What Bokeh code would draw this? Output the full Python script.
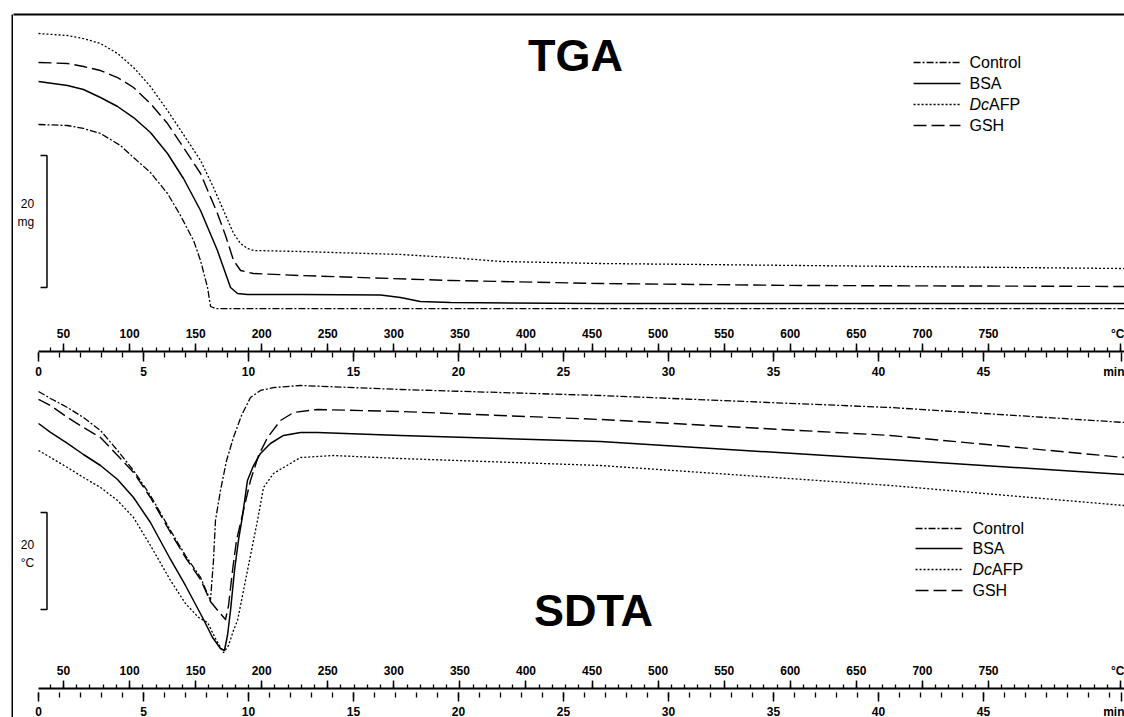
from bokeh.plotting import figure
from bokeh.models import Range1d, LinearAxis, FixedTicker, CustomJSTickFormatter, Label, Spacer
from bokeh.layouts import row, column
from bokeh.embed import file_html
from bokeh.resources import INLINE

# ------------------------------------------------------------------ data
series_names = ["Control", "BSA", "DcAFP", "GSH"]

# temperature programme: T = T_START + RATE * t
T_START = 31.1      # degC at t = 0 min
RATE = 15.89        # degC / min

temp_ticks = [50, 100, 150, 200, 250, 300, 350, 400, 450, 500, 550, 600, 650, 700, 750, 850]
time_ticks = [0, 5, 10, 15, 20, 25, 30, 35, 40, 45, 51.6]

# TGA : sample mass (mg, relative baseline) vs temperature (degC)
tga_control_T = [31.1, 53.0, 65.1, 78.0, 93.1, 103.0, 115.8, 128.7, 138.5, 148.4, 153.7, 159.0, 161.3, 165.0, 852.9]
tga_control_mg = [30.30, 30.15, 29.70, 28.94, 27.12, 25.30, 23.03, 19.85, 16.52, 12.73, 9.70, 5.61, 2.73, 2.42, 2.42]

tga_bsa_T = [31.1, 53.0, 65.1, 78.0, 90.9, 103.0, 115.8, 128.7, 140.8, 153.7, 166.5, 176.4, 181.7, 189.2, 229.4, 290.0, 305.0, 320.0, 342.9, 456.4, 852.9]
tga_bsa_mg = [36.82, 36.21, 35.61, 34.39, 33.03, 31.36, 29.09, 25.91, 22.12, 17.27, 11.21, 5.61, 4.70, 4.55, 4.55, 4.47, 4.09, 3.48, 3.33, 3.18, 3.18]

tga_dcafp_T = [31.1, 53.0, 65.1, 78.0, 90.9, 103.0, 115.8, 128.7, 143.8, 153.7, 163.5, 171.1, 178.7, 184.0, 189.2, 193.8, 229.4, 305.0, 342.9, 380.7, 456.4, 607.7, 852.9]
tga_dcafp_mg = [44.09, 43.79, 43.33, 42.58, 41.06, 38.94, 36.06, 32.42, 27.88, 24.85, 20.76, 17.27, 13.79, 12.27, 11.52, 11.21, 11.06, 10.61, 10.15, 9.55, 9.24, 8.94, 8.48]

tga_gsh_T = [31.1, 53.0, 65.1, 78.0, 90.9, 103.0, 115.8, 128.7, 140.8, 153.7, 166.5, 172.6, 178.7, 184.0, 193.8, 229.4, 342.9, 456.4, 607.7, 852.9]
tga_gsh_mg = [39.70, 39.55, 39.09, 38.48, 37.42, 35.91, 33.48, 30.45, 26.82, 22.88, 16.82, 13.48, 9.70, 8.18, 7.73, 7.42, 6.67, 6.21, 5.91, 5.76]

# SDTA : temperature difference (degC, relative baseline) vs temperature (degC)
sdta_control_T = [31.1, 40.2, 53.0, 65.1, 78.0, 90.9, 103.0, 115.8, 131.0, 142.3, 153.7, 161.2, 163.5, 165.0, 168.8, 173.4, 178.6, 184.7, 191.5, 199.1, 208.9, 229.4, 305.0, 456.4, 675.9, 852.9]
sdta_control_dT = [56.29, 54.85, 52.99, 50.93, 48.25, 44.12, 40.00, 34.85, 27.63, 22.47, 17.94, 13.20, 21.44, 29.69, 35.88, 42.06, 46.81, 51.34, 55.05, 56.50, 57.11, 57.53, 56.70, 55.46, 52.99, 49.90]

sdta_bsa_T = [31.1, 40.2, 53.0, 65.1, 78.0, 90.9, 103.0, 115.8, 131.0, 142.3, 155.2, 162.8, 168.8, 171.8, 174.1, 176.4, 179.4, 182.4, 185.5, 189.2, 193.8, 199.1, 206.6, 216.5, 229.4, 242.2, 305.0, 456.4, 675.9, 852.9]
sdta_bsa_dT = [49.69, 47.84, 45.57, 43.30, 41.03, 38.14, 34.43, 29.28, 21.65, 16.29, 9.69, 5.57, 3.30, 2.89, 5.98, 11.13, 19.38, 25.57, 30.72, 37.94, 41.03, 43.51, 45.57, 47.22, 47.84, 47.84, 47.22, 45.98, 42.27, 39.18]

sdta_dcafp_T = [31.1, 40.2, 53.0, 65.1, 78.0, 90.9, 103.0, 115.8, 131.0, 142.3, 152.2, 159.0, 165.0, 171.1, 174.9, 178.6, 181.7, 186.2, 191.5, 196.8, 201.4, 208.9, 216.5, 229.4, 254.3, 305.0, 456.4, 675.9, 852.9]
sdta_dcafp_dT = [44.12, 42.68, 40.62, 38.56, 36.50, 33.81, 30.31, 24.54, 17.32, 12.58, 9.69, 8.66, 5.36, 2.47, 3.92, 7.01, 9.07, 15.26, 22.47, 29.69, 36.50, 39.38, 40.62, 42.68, 43.09, 42.47, 41.03, 36.91, 32.78]

sdta_gsh_T = [31.1, 40.2, 53.0, 65.1, 78.0, 93.1, 103.0, 115.8, 131.0, 142.3, 153.7, 161.2, 167.3, 172.6, 174.9, 177.9, 180.9, 186.2, 191.5, 197.6, 204.4, 214.2, 224.1, 242.2, 305.0, 456.4, 675.9, 852.9]
sdta_gsh_dT = [54.64, 53.40, 50.93, 48.87, 46.81, 42.47, 39.59, 34.43, 27.22, 22.06, 17.53, 12.99, 10.93, 9.28, 12.16, 19.38, 25.57, 31.75, 37.94, 43.09, 46.81, 50.31, 51.96, 52.58, 52.17, 50.52, 47.22, 42.68]

scale_bar_mg = 20    # TGA scale bar (mg)
scale_bar_dT = 20    # SDTA scale bar (degC)

# ------------------------------------------------------------------ style
FONT = "Liberation Sans"
styles = {
    "Control": dict(line_dash="7 2 2 2", line_width=1.3),
    "BSA": dict(line_dash="solid", line_width=1.5),
    "DcAFP": dict(line_dash="2 2", line_width=1.3),
    "GSH": dict(line_dash="13 5", line_width=1.4),
}

W = 1111
T_LEFT, T_RIGHT = 12.16, 852.93
xr = Range1d(T_LEFT, T_RIGHT)
t_left = (T_LEFT - T_START) / RATE
t_right = (T_RIGHT - T_START) / RATE


def base_fig(h, yr, **kw):
    p = figure(width=W, height=h, x_range=xr, y_range=yr, toolbar_location=None,
               output_backend="svg", x_axis_location=None, y_axis_location=None,
               min_border=0, **kw)
    p.outline_line_color = None
    p.grid.visible = False
    p.background_fill_color = "white"
    p.border_fill_color = "white"
    return p


def label(p, x, y, text, size, **kw):
    p.add_layout(Label(x=x, y=y, text=text, text_font=FONT, text_font_size=size,
                       text_color="black", **kw))


def add_legend(p, x0, x1, xt, ys):
    for name, y in zip(series_names, ys):
        p.line([x0, x1], [y, y], line_color="black", **styles[name])
        if name == "DcAFP":
            label(p, xt, y, "Dc", "16px", text_font_style="italic", text_baseline="middle")
            label(p, xt, y, "AFP", "16px", x_offset=19.6, text_baseline="middle")
        else:
            label(p, xt, y, name, "16px", text_baseline="middle")


def scale_bar(p, x_bar, x_tick, y_top, span, unit, y_lab1, y_lab2, x_lab):
    p.line([x_tick, x_bar, x_bar, x_tick], [y_top, y_top, y_top - span, y_top - span],
           line_color="black", line_width=1.5)
    label(p, x_lab, y_lab1, str(span), "12px", text_align="right", text_baseline="middle")
    label(p, x_lab, y_lab2, unit, "12px", text_align="right", text_baseline="middle")


# ---------------- TGA panel
tga_top = 310 / 6.6
pA = base_fig(324, Range1d(0, tga_top), min_border_top=14)
pA.add_layout(LinearAxis(ticker=FixedTicker(ticks=[]), axis_line_width=2, major_tick_out=0,
                         major_tick_in=0, minor_tick_out=0, minor_tick_in=0,
                         major_label_text_font_size="0px", major_label_standoff=0), "above")
for name, T, y in [("Control", tga_control_T, tga_control_mg), ("BSA", tga_bsa_T, tga_bsa_mg),
                   ("DcAFP", tga_dcafp_T, tga_dcafp_mg), ("GSH", tga_gsh_T, tga_gsh_mg)]:
    pA.line(T, y, line_color="black", line_join="round", **styles[name])
label(pA, 437.5, 40.76, "TGA", "45px", text_font_style="bold", text_align="center", text_baseline="middle")
add_legend(pA, 693.3, 728.8, 735.6, [39.70, 36.52, 33.33, 30.15])
scale_bar(pA, 37.5, 32.6, 25.6, scale_bar_mg, "mg", 18.33, 15.6, 27.8)


# ---------------- axis strips
def strip(h, top, bottom):
    p = base_fig(h, Range1d(0, 1), min_border_top=top, min_border_bottom=bottom)
    p.extra_x_ranges = {"time": Range1d(t_left, t_right)}
    ax_T = LinearAxis(
        ticker=FixedTicker(ticks=temp_ticks, minor_ticks=list(range(40, 860, 10))),
        formatter=CustomJSTickFormatter(code="return tick >= 850 ? '\u00b0C' : tick.toFixed(0);"),
        bounds=(T_START, 900), axis_line_width=2, major_tick_out=8, major_tick_in=0,
        minor_tick_out=4, minor_tick_in=0, major_tick_line_width=1.5, minor_tick_line_width=1.3,
        major_label_standoff=3, major_label_text_font=FONT, major_label_text_font_size="12px",
        major_label_text_font_style="bold", major_label_text_color="black")
    p.add_layout(ax_T, "above")
    ax_t = LinearAxis(
        x_range_name="time",
        ticker=FixedTicker(ticks=time_ticks, minor_ticks=list(range(0, 53))),
        formatter=CustomJSTickFormatter(code="return tick > 50 ? 'min' : tick.toFixed(0);"),
        bounds=(0, 60), axis_line_color=None, major_tick_out=9, major_tick_in=0,
        minor_tick_out=5, minor_tick_in=0, major_tick_line_width=1.5, minor_tick_line_width=1.3,
        major_label_standoff=3, major_label_text_font=FONT, major_label_text_font_size="12px",
        major_label_text_font_style="bold", major_label_text_color="black")
    p.add_layout(ax_t, "below")
    return p


pB = strip(56, 26, 29)

# ---------------- SDTA panel
sdta_top = 284 / 4.85
pC = base_fig(284, Range1d(0, sdta_top))
for name, T, y in [("Control", sdta_control_T, sdta_control_dT), ("BSA", sdta_bsa_T, sdta_bsa_dT),
                   ("DcAFP", sdta_dcafp_T, sdta_dcafp_dT), ("GSH", sdta_gsh_T, sdta_gsh_dT)]:
    pC.line(T, y, line_color="black", line_join="round", **styles[name])
label(pC, 451.1, 11.13, "SDTA", "45px", text_font_style="bold", text_align="center", text_baseline="middle")
add_legend(pC, 694.8, 730.3, 737.9, [28.04, 23.92, 19.59, 15.26])
scale_bar(pC, 37.5, 32.6, 31.34, scale_bar_dT, "\u00b0C", 24.74, 21.03, 27.8)

pD = strip(53, 25, 27)

# ---------------- left frame line
bar = figure(width=2, height=717, toolbar_location=None, output_backend="svg",
             x_axis_location=None, y_axis_location=None, min_border=0, min_border_top=14,
             x_range=Range1d(0, 1), y_range=Range1d(0, 1))
bar.outline_line_color = None
bar.grid.visible = False
bar.background_fill_color = "black"
bar.border_fill_color = "white"

layout = row(Spacer(width=11, height=717), bar, column(pA, pB, pC, pD))

with open("out.html", "w", encoding="utf-8") as f:
    f.write(file_html(layout, INLINE))
